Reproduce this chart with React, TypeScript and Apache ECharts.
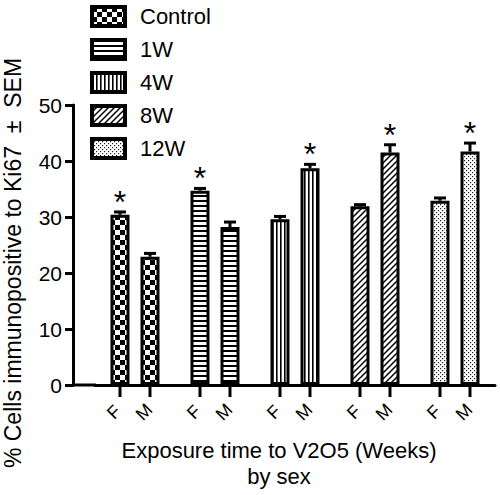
import React, { useEffect, useRef } from "react";
import * as echarts from "echarts";

const groups = ["Control", "1W", "4W", "8W", "12W"];
const sexLabels = ["F", "M"];
const femaleMean = [30.4, 34.7, 29.6, 31.9, 32.9];
const femaleSEM = [0.5, 0.4, 0.5, 0.3, 0.5];
const maleMean = [22.9, 28.2, 38.7, 41.5, 41.7];
const maleSEM = [0.6, 0.9, 0.7, 1.4, 1.5];
const femaleSig = [true, true, false, false, false];
const maleSig = [false, false, true, true, true];
const yTicks = { min: 0, max: 50, interval: 10 };

const FONT = 'Arial, "Liberation Sans", Helvetica, sans-serif';

function makeCanvas(w: number, h: number, draw: (c: CanvasRenderingContext2D) => void) {
  const cv = document.createElement("canvas");
  cv.width = w;
  cv.height = h;
  const c = cv.getContext("2d")!;
  c.fillStyle = "#fff";
  c.fillRect(0, 0, w, h);
  c.fillStyle = "#000";
  c.strokeStyle = "#000";
  draw(c);
  return { image: cv.toDataURL(), imageWidth: w, imageHeight: h, repeat: "repeat" };
}

function makePatterns() {
  const checker = makeCanvas(10, 10, (c) => {
    c.fillRect(0, 0, 5, 5);
    c.fillRect(5, 5, 5, 5);
  });
  const horiz = makeCanvas(8, 5, (c) => {
    c.fillRect(0, 0, 8, 2);
  });
  const vert = makeCanvas(4, 8, (c) => {
    c.fillRect(0, 0, 1.6, 8);
  });
  const diag = makeCanvas(6, 6, (c) => {
    c.lineWidth = 1.5;
    c.beginPath();
    c.moveTo(-1, 7);
    c.lineTo(7, -1);
    c.moveTo(-4, 4);
    c.lineTo(4, -4);
    c.moveTo(2, 10);
    c.lineTo(10, 2);
    c.stroke();
  });
  const dots = makeCanvas(4, 4, (c) => {
    c.fillStyle = "#222";
    c.fillRect(0, 0, 1.2, 1.2);
    c.fillRect(2, 2, 1.2, 1.2);
  });
  return [checker, horiz, vert, diag, dots];
}

export default function App() {
  const ref = useRef<HTMLDivElement>(null);
  useEffect(() => {
    if (!ref.current) return;
    const chart = echarts.init(ref.current, null, { renderer: "svg" });
    const patterns = makePatterns();

    const barSeries: any[] = [];
    groups.forEach((g, i) => {
      [femaleMean, maleMean].forEach((arr, s) => {
        barSeries.push({
          type: "bar",
          name: g,
          stack: s === 0 ? "F" : "M",
          barWidth: 19,
          barGap: "58%",
          data: groups.map((_, j) => (j === i ? arr[i] : "-")),
          itemStyle: { color: patterns[i], borderColor: "#000", borderWidth: 3 },
          emphasis: { disabled: true },
          z: 2,
        });
      });
    });

    const errData: any[] = [];
    groups.forEach((_, i) => {
      errData.push([i, femaleMean[i], femaleMean[i] + femaleSEM[i], 0, femaleSig[i] ? 1 : 0]);
      errData.push([i, maleMean[i], maleMean[i] + maleSEM[i], 1, maleSig[i] ? 1 : 0]);
    });

    const option: any = {
      animation: false,
      grid: { left: 95, right: 5, top: 105, bottom: 110, containLabel: false },
      legend: {
        orient: "vertical",
        left: 90,
        top: 5,
        padding: 0,
        icon: "rect",
        itemWidth: 33,
        itemHeight: 19,
        itemGap: 10,
        selectedMode: false,
        data: groups,
        itemStyle: { borderColor: "#000", borderWidth: 4 },
        textStyle: { fontSize: 22, color: "#000", fontFamily: FONT, padding: [0, 0, 0, 10] },
      },
      xAxis: {
        type: "category",
        data: groups,
        axisLine: { show: true, lineStyle: { color: "#000", width: 3 } },
        axisTick: { show: false },
        axisLabel: { show: false },
        splitLine: { show: false },
        z: 10,
      },
      yAxis: {
        type: "value",
        min: yTicks.min,
        max: yTicks.max,
        interval: yTicks.interval,
        offset: 22,
        axisLine: { show: true, lineStyle: { color: "#000", width: 3 } },
        axisTick: { show: true, length: 8, lineStyle: { color: "#000", width: 3 } },
        axisLabel: { fontSize: 21, color: "#000", fontFamily: FONT, margin: 11 },
        splitLine: { show: false },
      },
      series: [
        ...barSeries,
        {
          type: "custom",
          name: "err",
          clip: false,
          z: 5,
          data: errData,
          renderItem: (params: any, api: any) => {
            const g = api.value(0);
            const mean = api.value(1);
            const upper = api.value(2);
            const side = api.value(3);
            const sig = api.value(4);
            const base = api.coord([g, 0]);
            const top = api.coord([g, mean]);
            const up = api.coord([g, upper]);
            const x = base[0] + (side === 0 ? -15 : 15);
            const children: any[] = [
              { type: "line", shape: { x1: x, y1: top[1], x2: x, y2: up[1] }, style: { stroke: "#000", lineWidth: 3 } },
              { type: "line", shape: { x1: x - 6, y1: up[1], x2: x + 6, y2: up[1] }, style: { stroke: "#000", lineWidth: 3 } },
              { type: "line", shape: { x1: x, y1: base[1], x2: x, y2: base[1] + 12 }, style: { stroke: "#000", lineWidth: 3 } },
              {
                type: "text",
                x: x - 6,
                y: base[1] + 27,
                rotation: Math.PI / 4,
                style: { text: sexLabels[side], fontSize: 18, fill: "#000", fontFamily: FONT, align: "center", verticalAlign: "middle" },
              },
            ];
            if (sig) {
              children.push({
                type: "text",
                x: x,
                y: up[1] - 10,
                style: { text: "*", fontSize: 32, fill: "#000", fontFamily: FONT, align: "center", verticalAlign: "middle" },
              });
            }
            return { type: "group", children };
          },
        },
      ],
      graphic: [
        { type: "line", shape: { x1: 72, y1: 385, x2: 96, y2: 385 }, style: { stroke: "#000", lineWidth: 3 }, z: 10 },
        {
          type: "text",
          x: 13,
          y: 263,
          rotation: Math.PI / 2,
          style: { text: "% Cells immunopositive to Ki67  ±  SEM", fontSize: 23, fill: "#000", fontFamily: FONT, align: "center", verticalAlign: "middle" },
        },
        {
          type: "text",
          x: 279,
          y: 450,
          style: { text: "Exposure time to V2O5 (Weeks)", fontSize: 22, fill: "#000", fontFamily: FONT, align: "center", verticalAlign: "middle" },
        },
        {
          type: "text",
          x: 279,
          y: 476,
          style: { text: "by sex", fontSize: 22, fill: "#000", fontFamily: FONT, align: "center", verticalAlign: "middle" },
        },
      ],
    };
    chart.setOption(option);
    return () => chart.dispose();
  }, []);
  return <div ref={ref} style={{ width: 500, height: 495, position: "absolute", left: 0, top: 0 }} />;
}
